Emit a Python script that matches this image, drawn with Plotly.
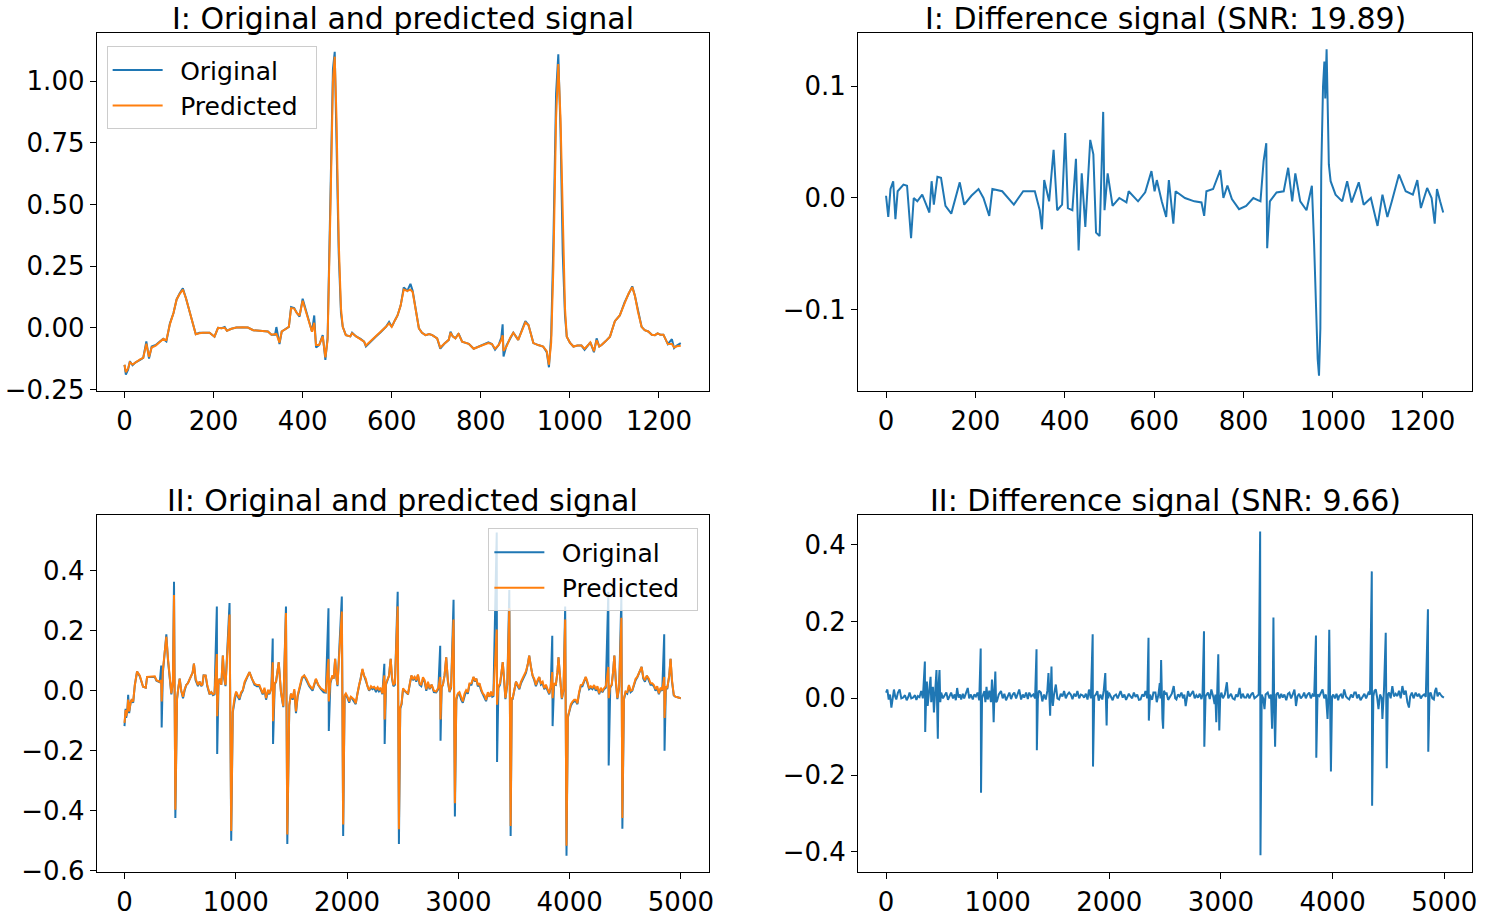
import plotly.graph_objects as go
from plotly.subplots import make_subplots

# lead I: sample index, original and predicted signal
X_I = [0, 3, 8, 12, 18, 25, 35, 42, 49, 55,
       61, 70, 80, 87, 94, 102, 110, 117, 124, 131,
       138, 146, 153, 160, 168, 176, 191, 202, 210, 218,
       225, 230, 240, 251, 265, 277, 289, 305, 322, 330,
       338, 341, 348, 353, 362, 369, 374, 381, 387, 393,
       400, 407, 415, 421, 426, 430, 437, 445, 451, 456,
       462, 468, 472, 476, 481, 486, 490, 497, 507, 511,
       520, 530, 538, 542, 552, 564, 575, 587, 594, 600,
       607, 613, 620, 627, 635, 642, 647, 654, 661, 668,
       676, 684, 691, 702, 709, 718, 728, 732, 737, 743,
       750, 758, 765, 773, 784, 795, 805, 817, 825, 832,
       840, 846, 849, 851, 858, 866, 873, 884, 893, 900,
       907, 918, 929, 940, 948, 953, 958, 963, 969, 974,
       979, 984, 989, 993, 1000, 1008, 1017, 1026, 1033, 1040,
       1046, 1054, 1060, 1066, 1071, 1080, 1090, 1101, 1112, 1123,
       1132, 1140, 1146, 1153, 1161, 1168, 1176, 1184, 1191, 1197,
       1203, 1210, 1220, 1229, 1234, 1240, 1249]
ORIG_I = [-0.15, -0.19, -0.17, -0.136, -0.152, -0.14, -0.13, -0.122, -0.055, -0.125,
          -0.076, -0.07, -0.055, -0.045, -0.055, 0.018, 0.06, 0.115, 0.14, 0.16,
          0.12, 0.064, 0.02, -0.026, -0.02, -0.02, -0.02, -0.036, 0.0, -0.002,
          0.003, -0.012, -0.004, 0.001, 0.002, 0.001, -0.01, -0.012, -0.015, -0.028,
          -0.028, 0.003, -0.066, -0.015, -0.005, 0.004, 0.084, 0.08, 0.06, 0.045,
          0.118, 0.07, 0.024, -0.016, 0.05, -0.08, -0.07, -0.03, -0.13, -0.04,
          0.5, 1.05, 1.12, 0.8, 0.3, 0.06, 0.004, -0.03, -0.035, -0.02,
          -0.035, -0.045, -0.056, -0.076, -0.056, -0.036, -0.018, 0.004, 0.024, 0.004,
          0.03, 0.05, 0.09, 0.164, 0.15, 0.178, 0.15, 0.07, -0.002, -0.02,
          -0.03, -0.025, -0.03, -0.043, -0.085, -0.065, -0.049, -0.016, -0.035, -0.043,
          -0.023, -0.056, -0.06, -0.065, -0.085, -0.076, -0.07, -0.059, -0.066, -0.089,
          -0.07, -0.04, 0.014, -0.116, -0.07, -0.04, -0.02, -0.049, -0.01, 0.027,
          0.011, -0.062, -0.07, -0.076, -0.099, -0.16, -0.03, 0.35, 0.95, 1.11,
          0.8, 0.3, 0.05, -0.036, -0.06, -0.076, -0.072, -0.072, -0.089, -0.072,
          -0.059, -0.099, -0.043, -0.076, -0.07, -0.055, -0.036, 0.027, 0.05, 0.104,
          0.14, 0.168, 0.13, 0.064, 0.004, -0.01, -0.015, -0.028, -0.03, -0.023,
          -0.028, -0.028, -0.066, -0.046, -0.082, -0.072, -0.062]
PRED_I = [-0.15, -0.18, -0.165, -0.14, -0.149, -0.14, -0.128, -0.122, -0.065, -0.118,
          -0.08, -0.072, -0.055, -0.045, -0.05, 0.015, 0.06, 0.115, 0.138, 0.155,
          0.12, 0.064, 0.02, -0.026, -0.022, -0.02, -0.02, -0.036, 0.0, -0.002,
          0.0, -0.012, -0.004, 0.001, 0.002, 0.001, -0.01, -0.012, -0.015, -0.028,
          -0.028, -0.025, -0.06, -0.015, -0.005, 0.004, 0.08, 0.078, 0.06, 0.05,
          0.11, 0.07, 0.024, -0.016, 0.02, -0.07, -0.07, -0.035, -0.12, -0.05,
          0.45, 1.0, 1.1, 0.85, 0.35, 0.08, 0.004, -0.03, -0.035, -0.022,
          -0.035, -0.045, -0.056, -0.072, -0.056, -0.036, -0.018, 0.004, 0.018, 0.004,
          0.03, 0.05, 0.09, 0.155, 0.15, 0.155, 0.145, 0.07, -0.002, -0.02,
          -0.03, -0.025, -0.03, -0.043, -0.08, -0.065, -0.049, -0.02, -0.035, -0.043,
          -0.025, -0.056, -0.06, -0.065, -0.085, -0.076, -0.07, -0.062, -0.066, -0.085,
          -0.07, -0.05, -0.03, -0.094, -0.075, -0.04, -0.02, -0.049, -0.01, 0.022,
          0.011, -0.062, -0.07, -0.076, -0.095, -0.15, -0.06, 0.25, 0.85, 1.07,
          0.85, 0.4, 0.08, -0.036, -0.06, -0.076, -0.072, -0.072, -0.085, -0.072,
          -0.059, -0.095, -0.05, -0.076, -0.07, -0.055, -0.036, 0.027, 0.05, 0.1,
          0.14, 0.165, 0.13, 0.064, 0.004, -0.01, -0.015, -0.028, -0.03, -0.023,
          -0.028, -0.028, -0.066, -0.066, -0.08, -0.075, -0.073]

# lead I: difference signal
X_DI = [0, 5, 10, 16, 21, 26, 39, 47, 56, 62,
        70, 81, 97, 102, 107, 115, 123, 133, 146, 165,
        175, 191, 207, 218, 231, 238, 260, 286, 307, 333,
        344, 349, 354, 365, 375, 383, 394, 401, 407, 417,
        425, 431, 438, 446, 457, 464, 470, 478, 486, 489,
        496, 507, 522, 538, 543, 564, 580, 594, 601, 606,
        617, 627, 633, 643, 648, 669, 690, 706, 712, 717,
        732, 748, 755, 764, 774, 790, 806, 822, 838, 845,
        851, 853, 859, 874, 890, 900, 909, 916, 927, 941,
        953, 958, 966, 969, 972, 974, 978, 981, 983, 986,
        991, 995, 1006, 1021, 1032, 1042, 1058, 1069, 1085, 1100,
        1111, 1122, 1132, 1148, 1163, 1179, 1189, 1197, 1211, 1221,
        1228, 1233, 1240, 1247]
DIFF_I = [0.002, -0.017, 0.008, 0.015, -0.019, 0.006, 0.012, 0.011, -0.036, 0.0,
          -0.003, 0.003, -0.013, 0.015, -0.006, 0.019, 0.018, -0.007, -0.014, 0.014,
          -0.006, 0.002, 0.008, 0.0, -0.016, 0.008, 0.006, -0.006, 0.006, 0.006,
          -0.011, -0.028, 0.016, -0.003, 0.043, -0.011, -0.006, 0.058, -0.009, -0.011,
          0.035, -0.047, 0.022, -0.026, 0.052, 0.039, -0.031, -0.034, 0.077, -0.011,
          0.022, -0.007, 0.0, -0.004, 0.006, -0.003, 0.005, 0.024, 0.006, 0.016,
          -0.003, -0.017, 0.016, -0.023, 0.006, 0.0, -0.003, -0.004, -0.016, 0.006,
          0.008, 0.025, 0.0, 0.011, -0.001, -0.01, -0.007, 0.0, -0.003, 0.033,
          0.049, -0.045, -0.003, 0.005, 0.006, 0.027, -0.003, 0.022, -0.003, -0.011,
          0.011, -0.041, -0.144, -0.159, -0.117, 0.024, 0.1, 0.122, 0.089, 0.133,
          0.03, 0.015, 0.003, -0.003, 0.015, -0.004, 0.014, -0.006, 0.0, -0.025,
          0.003, -0.017, -0.003, 0.021, 0.006, 0.003, 0.016, -0.009, 0.009, 0.0,
          -0.023, 0.008, -0.003, -0.013]

# lead II: sample index, original and predicted signal
X_II = [0, 10, 15, 25, 33, 42, 55, 63, 78, 93,
        113, 137, 167, 191, 203, 240, 272, 287, 317, 330,
        334, 345, 361, 376, 391, 406, 421, 435, 445, 457,
        472, 484, 496, 510, 526, 540, 555, 570, 585, 600,
        612, 624, 639, 660, 675, 690, 700, 711, 729, 744,
        764, 780, 795, 809, 830, 833, 845, 854, 870, 884,
        896, 908, 944, 959, 973, 988, 1003, 1018, 1033, 1048,
        1063, 1080, 1100, 1123, 1145, 1168, 1190, 1212, 1242, 1258,
        1272, 1290, 1302, 1320, 1332, 1335, 1350, 1362, 1386, 1395,
        1406, 1427, 1451, 1463, 1481, 1496, 1511, 1526, 1541, 1556,
        1571, 1595, 1615, 1635, 1660, 1690, 1720, 1740, 1765, 1790,
        1809, 1833, 1836, 1850, 1869, 1880, 1893, 1905, 1914, 1953,
        1965, 1978, 1989, 2004, 2019, 2034, 2049, 2064, 2078, 2093,
        2108, 2123, 2138, 2153, 2168, 2183, 2198, 2215, 2229, 2243,
        2260, 2275, 2287, 2302, 2317, 2335, 2338, 2350, 2362, 2377,
        2392, 2404, 2416, 2430, 2455, 2466, 2478, 2490, 2503, 2526,
        2548, 2563, 2578, 2593, 2607, 2622, 2637, 2652, 2667, 2682,
        2697, 2712, 2727, 2742, 2760, 2780, 2801, 2820, 2837, 2840,
        2850, 2861, 2876, 2891, 2906, 2921, 2935, 2957, 2969, 2982,
        2996, 3010, 3025, 3040, 3055, 3070, 3085, 3100, 3118, 3136,
        3150, 3162, 3175, 3190, 3205, 3220, 3235, 3249, 3265, 3280,
        3294, 3305, 3315, 3345, 3348, 3360, 3375, 3385, 3399, 3410,
        3423, 3440, 3458, 3470, 3480, 3488, 3503, 3518, 3533, 3548,
        3563, 3578, 3593, 3608, 3625, 3637, 3652, 3667, 3682, 3697,
        3712, 3727, 3742, 3757, 3772, 3787, 3802, 3817, 3830, 3844,
        3847, 3860, 3876, 3890, 3900, 3915, 3930, 3945, 3960, 3972,
        3984, 3996, 4011, 4026, 4041, 4055, 4070, 4085, 4100, 4115,
        4130, 4145, 4160, 4175, 4190, 4205, 4220, 4235, 4250, 4265,
        4280, 4295, 4309, 4325, 4348, 4351, 4365, 4378, 4390, 4402,
        4415, 4429, 4445, 4465, 4474, 4488, 4503, 4518, 4533, 4548,
        4563, 4578, 4593, 4608, 4625, 4647, 4662, 4677, 4694, 4712,
        4727, 4742, 4757, 4772, 4787, 4802, 4817, 4832, 4850, 4853,
        4865, 4877, 4895, 4907, 4920, 4936, 4950, 4970, 4999]
ORIG_II = [-0.118, -0.06, -0.09, -0.07, -0.014, -0.075, -0.04, -0.031, -0.04, 0.019,
           0.064, 0.048, 0.013, 0.01, 0.046, 0.045, 0.046, 0.033, 0.028, 0.084,
           -0.123, 0.06, 0.128, 0.188, 0.1, 0.04, -0.012, 0.03, 0.363, -0.424,
           -0.03, 0.01, 0.04, 0.0, -0.025, 0.0, 0.019, 0.025, 0.035, 0.05,
           0.06, 0.09, 0.035, 0.015, 0.03, 0.015, 0.02, 0.051, 0.05, 0.015,
           -0.012, -0.005, -0.015, -0.012, 0.281, -0.211, 0.02, 0.04, 0.02, 0.117,
           0.04, 0.015, 0.292, -0.5, -0.072, -0.03, -0.005, -0.02, -0.03, -0.01,
           0.0, 0.025, 0.04, 0.062, 0.04, 0.02, 0.015, 0.015, -0.012, 0.005,
           -0.03, 0.0, -0.012, 0.01, 0.174, -0.178, 0.02, 0.03, 0.095, 0.03,
           -0.005, -0.055, 0.281, -0.511, -0.05, -0.01, -0.03, 0.0, -0.075, -0.02,
           0.005, 0.04, 0.05, 0.035, 0.015, 0.0, 0.038, 0.02, 0.005, -0.005,
           -0.006, 0.275, -0.134, 0.025, 0.05, 0.04, 0.106, 0.04, 0.015, 0.314,
           -0.484, -0.02, -0.012, -0.025, -0.04, -0.02, -0.03, -0.035, -0.045, -0.01,
           0.015, 0.04, 0.07, 0.05, 0.035, 0.015, 0.0, 0.01, 0.005, 0.01,
           -0.005, 0.008, -0.002, 0.005, -0.012, 0.09, -0.178, 0.02, 0.035, 0.05,
           0.106, 0.04, 0.015, 0.02, 0.33, -0.511, -0.06, -0.045, 0.005, -0.005,
           -0.012, 0.02, 0.05, 0.035, 0.045, 0.03, 0.052, 0.02, 0.015, 0.04,
           0.03, 0.0, 0.025, 0.005, 0.02, -0.005, -0.006, 0.005, 0.15, -0.167,
           0.01, 0.019, 0.05, 0.111, 0.03, -0.005, 0.01, 0.303, -0.419, -0.03,
           -0.012, -0.01, -0.03, -0.04, -0.015, 0.0, -0.01, 0.02, 0.02, 0.045,
           0.03, 0.04, 0.015, 0.02, 0.0, -0.012, -0.02, -0.035, -0.01, -0.02,
           -0.005, -0.02, -0.018, 0.527, -0.238, 0.01, 0.02, 0.06, 0.095, 0.04,
           -0.028, 0.02, 0.336, -0.484, -0.03, -0.028, 0.0, 0.03, 0.015, 0.005,
           0.025, 0.035, 0.05, 0.06, 0.09, 0.117, 0.08, 0.05, 0.035, 0.015,
           0.03, 0.045, 0.02, 0.025, 0.005, 0.015, 0.0, -0.012, 0.01, 0.183,
           -0.118, 0.02, 0.019, 0.06, 0.111, 0.03, -0.028, 0.0, 0.281, -0.55,
           -0.09, -0.072, -0.05, -0.04, -0.035, -0.035, -0.045, -0.01, 0.015, 0.015,
           0.03, 0.045, 0.025, 0.005, 0.01, 0.005, 0.015, 0.0, 0.01, -0.012,
           0.005, -0.005, 0.005, 0.01, 0.33, -0.249, 0.01, 0.019, 0.06, 0.117,
           0.03, -0.028, 0.01, 0.314, -0.46, -0.03, -0.005, -0.01, 0.015, -0.005,
           0.0, 0.02, 0.035, 0.045, 0.06, 0.079, 0.04, 0.03, 0.05, 0.035,
           0.02, 0.02, 0.015, 0.0, 0.01, -0.012, 0.005, 0.0, 0.188, -0.2,
           0.01, 0.005, 0.05, 0.106, 0.03, -0.016, -0.02, -0.022, -0.025]
PRED_II = [-0.107, -0.065, -0.085, -0.07, -0.03, -0.069, -0.04, -0.031, -0.036, 0.019,
           0.064, 0.051, 0.013, 0.01, 0.046, 0.047, 0.048, 0.035, 0.03, 0.035,
           -0.036, 0.07, 0.128, 0.18, 0.106, 0.04, -0.009, 0.03, 0.319, -0.397,
           -0.025, 0.01, 0.04, 0.0, -0.02, 0.005, 0.019, 0.025, 0.04, 0.05,
           0.06, 0.09, 0.04, 0.019, 0.03, 0.019, 0.02, 0.051, 0.051, 0.019,
           -0.009, -0.005, -0.012, -0.009, 0.122, -0.085, 0.025, 0.04, 0.02, 0.117,
           0.045, 0.019, 0.254, -0.468, -0.069, -0.025, -0.003, -0.015, -0.025, -0.005,
           0.002, 0.03, 0.045, 0.062, 0.04, 0.024, 0.019, 0.019, -0.009, 0.01,
           -0.025, 0.003, -0.009, 0.01, 0.095, -0.102, 0.025, 0.03, 0.095, 0.035,
           -0.003, -0.052, 0.259, -0.479, -0.047, -0.01, -0.025, 0.005, -0.069, -0.015,
           0.008, 0.045, 0.051, 0.04, 0.019, 0.005, 0.04, 0.02, 0.008, 0.0,
           -0.003, 0.106, -0.036, 0.03, 0.051, 0.04, 0.106, 0.045, 0.019, 0.264,
           -0.446, -0.015, -0.009, -0.02, -0.036, -0.02, -0.025, -0.03, -0.042, -0.005,
           0.019, 0.04, 0.073, 0.05, 0.04, 0.015, 0.002, 0.015, 0.01, 0.013,
           0.005, 0.012, 0.002, 0.01, -0.009, 0.051, -0.096, 0.025, 0.04, 0.05,
           0.106, 0.045, 0.019, 0.025, 0.281, -0.462, -0.055, -0.042, 0.008, -0.003,
           -0.009, 0.025, 0.051, 0.04, 0.046, 0.035, 0.054, 0.025, 0.019, 0.045,
           0.035, 0.005, 0.03, 0.008, 0.02, 0.0, -0.003, 0.01, 0.046, -0.096,
           0.015, 0.019, 0.05, 0.111, 0.035, -0.003, 0.015, 0.237, -0.375, -0.025,
           -0.009, -0.005, -0.025, -0.036, -0.01, 0.002, -0.005, 0.024, 0.025, 0.046,
           0.035, 0.04, 0.019, 0.025, 0.005, -0.009, -0.015, -0.031, -0.005, -0.02,
           -0.003, -0.015, -0.014, 0.204, -0.047, 0.015, 0.025, 0.06, 0.095, 0.045,
           -0.025, 0.025, 0.275, -0.451, -0.025, -0.025, 0.005, 0.03, 0.02, 0.008,
           0.03, 0.04, 0.051, 0.065, 0.09, 0.117, 0.08, 0.051, 0.04, 0.019,
           0.035, 0.046, 0.025, 0.03, 0.008, 0.02, 0.005, -0.009, 0.015, 0.062,
           -0.025, 0.025, 0.019, 0.06, 0.111, 0.035, -0.025, 0.005, 0.237, -0.517,
           -0.085, -0.069, -0.045, -0.036, -0.03, -0.03, -0.042, -0.005, 0.019, 0.02,
           0.035, 0.046, 0.03, 0.008, 0.015, 0.01, 0.019, 0.005, 0.015, -0.009,
           0.01, 0.0, 0.008, 0.015, 0.079, -0.025, 0.015, 0.019, 0.06, 0.117,
           0.035, -0.025, 0.015, 0.243, -0.424, -0.025, -0.003, -0.005, 0.019, 0.0,
           0.002, 0.025, 0.04, 0.046, 0.06, 0.079, 0.045, 0.035, 0.05, 0.04,
           0.025, 0.025, 0.019, 0.005, 0.015, -0.009, 0.01, 0.002, 0.046, -0.091,
           0.015, 0.008, 0.05, 0.106, 0.035, -0.014, -0.02, -0.022, -0.025]

# lead II: difference signal
X_DII = [0, 12, 24, 36, 48, 60, 71, 82, 92, 107,
         122, 137, 152, 170, 185, 200, 211, 226, 241, 260,
         272, 286, 300, 315, 330, 348, 351, 360, 366, 373,
         381, 390, 399, 405, 411, 420, 429, 436, 443, 452,
         458, 464, 470, 479, 486, 494, 510, 524, 540, 555,
         570, 583, 600, 615, 625, 637, 650, 663, 673, 688,
         700, 716, 732, 745, 760, 777, 790, 805, 820, 835,
         848, 851, 860, 870, 881, 890, 900, 911, 925, 940,
         949, 957, 964, 972, 979, 986, 994, 1010, 1030, 1045,
         1060, 1075, 1089, 1105, 1120, 1135, 1149, 1165, 1180, 1193,
         1210, 1225, 1238, 1255, 1270, 1283, 1300, 1320, 1335, 1348,
         1351, 1360, 1370, 1387, 1400, 1415, 1431, 1445, 1455, 1462,
         1470, 1476, 1482, 1488, 1494, 1505, 1521, 1535, 1550, 1565,
         1580, 1595, 1610, 1625, 1640, 1655, 1670, 1685, 1700, 1714,
         1730, 1745, 1760, 1774, 1790, 1805, 1818, 1835, 1851, 1854,
         1865, 1880, 1893, 1905, 1920, 1937, 1950, 1964, 1970, 1976,
         1982, 1990, 1997, 2015, 2030, 2042, 2060, 2075, 2090, 2101,
         2120, 2135, 2150, 2161, 2175, 2190, 2205, 2220, 2235, 2250,
         2265, 2280, 2295, 2310, 2324, 2340, 2351, 2354, 2365, 2375,
         2384, 2395, 2413, 2425, 2440, 2452, 2458, 2464, 2470, 2476,
         2482, 2490, 2503, 2512, 2527, 2542, 2560, 2577, 2590, 2601,
         2615, 2630, 2646, 2660, 2672, 2684, 2695, 2705, 2720, 2735,
         2750, 2765, 2780, 2794, 2810, 2825, 2835, 2848, 2851, 2862,
         2872, 2884, 2900, 2914, 2930, 2943, 2950, 2958, 2965, 2976,
         2980, 2985, 2993, 3003, 3018, 3035, 3053, 3065, 3077, 3090,
         3105, 3122, 3135, 3150, 3167, 3180, 3195, 3210, 3226, 3240,
         3255, 3270, 3285, 3300, 3320, 3338, 3351, 3354, 3365, 3378,
         3390, 3400, 3419, 3435, 3448, 3458, 3464, 3470, 3476, 3485,
         3495, 3509, 3525, 3540, 3553, 3568, 3585, 3600, 3613, 3628,
         3643, 3658, 3665, 3672, 3685, 3700, 3715, 3732, 3745, 3760,
         3775, 3791, 3805, 3820, 3835, 3851, 3854, 3865, 3881, 3895,
         3910, 3925, 3940, 3955, 3962, 3970, 3978, 3985, 3995, 4006,
         4020, 4035, 4050, 4059, 4075, 4090, 4104, 4120, 4135, 4149,
         4165, 4180, 4195, 4208, 4220, 4235, 4250, 4268, 4285, 4300,
         4321, 4335, 4351, 4354, 4365, 4375, 4387, 4400, 4411, 4425,
         4440, 4446, 4460, 4476, 4480, 4485, 4495, 4506, 4520, 4535,
         4550, 4565, 4580, 4595, 4610, 4625, 4640, 4655, 4670, 4684,
         4695, 4710, 4725, 4744, 4760, 4775, 4790, 4803, 4820, 4835,
         4854, 4857, 4868, 4878, 4893, 4907, 4918, 4928, 4940, 4955,
         4967, 4980, 4997]
DIFF_II = [0.015, 0.023, -0.003, 0.01, -0.024, 0.005, 0.023, 0.005, -0.003, 0.015,
           0.023, 0.0, 0.002, 0.008, -0.005, 0.004, 0.015, 0.0, 0.002, 0.008,
           -0.004, 0.006, 0.003, 0.019, 0.0, 0.096, -0.088, 0.01, 0.044, -0.02,
           -0.003, 0.03, 0.056, -0.01, 0.015, 0.03, -0.037, 0.01, 0.04, 0.074,
           -0.02, -0.105, 0.03, 0.074, -0.01, 0.015, 0.0, 0.006, 0.015, -0.004,
           0.008, 0.015, 0.0, 0.01, -0.005, 0.027, 0.002, 0.01, -0.003, 0.012,
           0.0, 0.015, 0.027, 0.0, 0.01, -0.003, 0.01, 0.005, 0.015, -0.005,
           0.13, -0.246, 0.0, 0.01, 0.019, -0.01, 0.03, -0.003, 0.02, -0.01,
           0.049, 0.01, -0.062, 0.02, 0.07, -0.01, -0.007, 0.01, 0.019, 0.0,
           0.012, -0.005, 0.006, 0.015, -0.002, 0.01, 0.015, 0.0, 0.012, 0.023,
           -0.003, 0.01, 0.002, 0.015, -0.002, 0.015, 0.005, 0.01, 0.0, 0.128,
           -0.135, 0.0, 0.02, 0.015, -0.008, 0.01, -0.003, 0.02, 0.066, -0.01,
           -0.045, 0.03, 0.083, 0.0, -0.02, 0.01, 0.036, 0.0, -0.003, 0.012,
           0.005, 0.019, 0.0, 0.01, 0.015, 0.01, -0.002, 0.012, 0.005, 0.019,
           0.0, 0.01, 0.008, 0.002, 0.012, -0.003, 0.023, 0.0, 0.167, -0.178,
           0.005, 0.01, 0.019, -0.006, 0.01, -0.003, 0.02, 0.066, -0.01, -0.071,
           0.02, 0.0, 0.015, 0.005, -0.005, 0.006, 0.01, 0.0, 0.012, 0.019,
           0.002, 0.01, -0.004, 0.002, 0.012, 0.005, 0.0, 0.015, 0.004, 0.01,
           -0.004, -0.003, 0.01, 0.005, 0.019, 0.0, 0.158, -0.058, 0.01, 0.0,
           -0.003, 0.015, 0.015, -0.01, 0.01, 0.04, 0.0, 0.1, -0.02, -0.054,
           -0.079, 0.02, 0.01, 0.015, -0.004, 0.002, 0.012, 0.032, 0.0, -0.003,
           0.01, 0.005, 0.015, 0.0, 0.01, -0.02, 0.005, 0.019, 0.005, 0.012,
           0.019, 0.0, 0.008, 0.002, 0.012, -0.002, 0.01, 0.175, -0.126, 0.005,
           0.01, 0.015, -0.002, 0.023, 0.005, -0.015, 0.01, -0.062, 0.0, 0.115,
           0.02, -0.084, 0.0, 0.015, 0.0, 0.01, 0.042, 0.0, 0.006, 0.012,
           0.0, -0.003, 0.01, 0.004, 0.027, 0.0, 0.012, 0.002, 0.002, 0.012,
           0.0, 0.01, 0.015, 0.0, 0.005, 0.01, 0.435, -0.409, 0.01, 0.0,
           -0.028, 0.01, 0.015, 0.0, 0.01, -0.079, 0.02, 0.211, 0.0, -0.126,
           0.01, 0.015, 0.0, 0.012, 0.002, 0.01, -0.005, 0.012, 0.015, 0.0,
           0.01, 0.023, 0.005, -0.02, 0.005, 0.012, 0.0, 0.006, 0.015, 0.0,
           0.01, 0.015, 0.0, 0.01, 0.005, 0.164, -0.155, 0.01, 0.006, 0.015,
           0.023, 0.0, 0.01, -0.054, 0.005, 0.179, -0.03, -0.191, 0.005, 0.01,
           0.0, 0.012, -0.005, 0.006, 0.01, 0.0, 0.023, 0.005, 0.0, -0.003,
           0.01, 0.002, 0.015, 0.015, 0.0, 0.01, -0.005, 0.006, 0.012, 0.0,
           0.015, 0.01, 0.331, -0.28, 0.005, 0.02, 0.023, 0.0, -0.028, 0.01,
           0.0, -0.054, 0.02, 0.171, 0.0, -0.182, 0.01, 0.015, 0.0, 0.032,
           0.005, 0.012, 0.006, 0.02, 0.0, 0.032, 0.01, 0.02, -0.01, -0.024,
           0.005, 0.015, 0.0, 0.015, 0.005, 0.012, 0.0, 0.006, 0.01, 0.004,
           0.232, -0.139, 0.01, 0.015, 0.0, -0.003, 0.02, 0.027, 0.005, 0.015,
           0.01, 0.005, 0.002]

TITLES = ["I: Original and predicted signal", "I: Difference signal (SNR: 19.89)",
          "II: Original and predicted signal", "II: Difference signal (SNR: 9.66)"]

BLUE = "#1f77b4"
ORANGE = "#ff7f0e"
FONT = "DejaVu Sans"
W, H = 1490, 919  # reference size; the figure fills the browser window
GAP = "\u2002"  # en space: room around the legend labels, as in the reference


def label(s):
    return GAP + s + GAP


fig = make_subplots(rows=2, cols=2)

fig.add_trace(go.Scatter(x=X_I, y=ORIG_I, mode="lines", name=label("Original"),
                         line=dict(color=BLUE, width=2), legend="legend"), 1, 1)
fig.add_trace(go.Scatter(x=X_I, y=PRED_I, mode="lines", name=label("Predicted"),
                         line=dict(color=ORANGE, width=2), legend="legend"), 1, 1)
fig.add_trace(go.Scatter(x=X_DI, y=DIFF_I, mode="lines", showlegend=False,
                         line=dict(color=BLUE, width=2)), 1, 2)
fig.add_trace(go.Scatter(x=X_II, y=ORIG_II, mode="lines", name=label("Original"),
                         line=dict(color=BLUE, width=2), legend="legend2"), 2, 1)
fig.add_trace(go.Scatter(x=X_II, y=PRED_II, mode="lines", name=label("Predicted"),
                         line=dict(color=ORANGE, width=2), legend="legend2"), 2, 1)
fig.add_trace(go.Scatter(x=X_DII, y=DIFF_II, mode="lines", showlegend=False,
                         line=dict(color=BLUE, width=2)), 2, 2)

# axes boxes in pixels: (left, right, top, bottom)
boxes = [(97, 711, 33, 397), (861, 1477, 33, 397),
         (97, 711, 522, 885), (861, 1477, 522, 885)]
xranges = [[-62.5, 1311.5], [-62.5, 1311.5], [-250, 5249], [-250, 5249]]
yranges = [[-0.258, 1.198], [-0.173, 0.148], [-0.606, 0.587], [-0.454, 0.479]]
xticks = [list(range(0, 1201, 200))] * 2 + [list(range(0, 5001, 1000))] * 2
yticks = [[-0.25, 0.0, 0.25, 0.5, 0.75, 1.0], [-0.1, 0.0, 0.1],
          [-0.6, -0.4, -0.2, 0.0, 0.2, 0.4], [-0.4, -0.2, 0.0, 0.2, 0.4]]
yfmt = ["{:.2f}", "{:.1f}", "{:.1f}", "{:.1f}"]

axis_style = dict(showline=True, linecolor="black", linewidth=1, mirror=True,
                  ticks="outside", ticklen=6, tickwidth=1, tickcolor="black",
                  showgrid=False, zeroline=False,
                  tickfont=dict(family=FONT, size=26, color="black"))

annotations = []
for i, (l, r, t, b) in enumerate(boxes):
    n = "" if i == 0 else str(i + 1)
    fig.layout["xaxis" + n].update(domain=[l / W, r / W], range=xranges[i],
                                   tickvals=xticks[i],
                                   ticktext=[str(v) for v in xticks[i]], **axis_style)
    fig.layout["yaxis" + n].update(domain=[1 - b / H, 1 - t / H], range=yranges[i],
                                   tickvals=yticks[i],
                                   ticktext=[yfmt[i].format(v).replace("-", "\u2212")
                                             for v in yticks[i]], **axis_style)
    annotations.append(dict(text=TITLES[i], x=(l + r) / 2 / W, y=1 - t / H,
                            xref="paper", yref="paper", xanchor="center",
                            yanchor="bottom", showarrow=False, yshift=-5,
                            font=dict(family=FONT, size=30, color="black")))

legend_style = dict(xanchor="left", yanchor="top", bgcolor="rgba(255,255,255,0.8)",
                    bordercolor="#cccccc", borderwidth=1, itemwidth=50,
                    font=dict(family=FONT, size=25, color="black"))

fig.update_layout(
    autosize=True,
    margin=dict(l=0, r=0, t=0, b=0),
    paper_bgcolor="white", plot_bgcolor="white",
    font=dict(family=FONT, color="black"),
    annotations=annotations,
    legend=dict(x=107 / W, y=1 - 47 / H, **legend_style),
    legend2=dict(x=490 / W, y=1 - 536 / H, **legend_style),
)

# figure sized to the window; drop the default body margin so nothing scrolls
fig.write_html("out.html", config={"displayModeBar": False},
               default_width="100vw", default_height="100vh",
               post_script="document.body.style.margin='0';")
